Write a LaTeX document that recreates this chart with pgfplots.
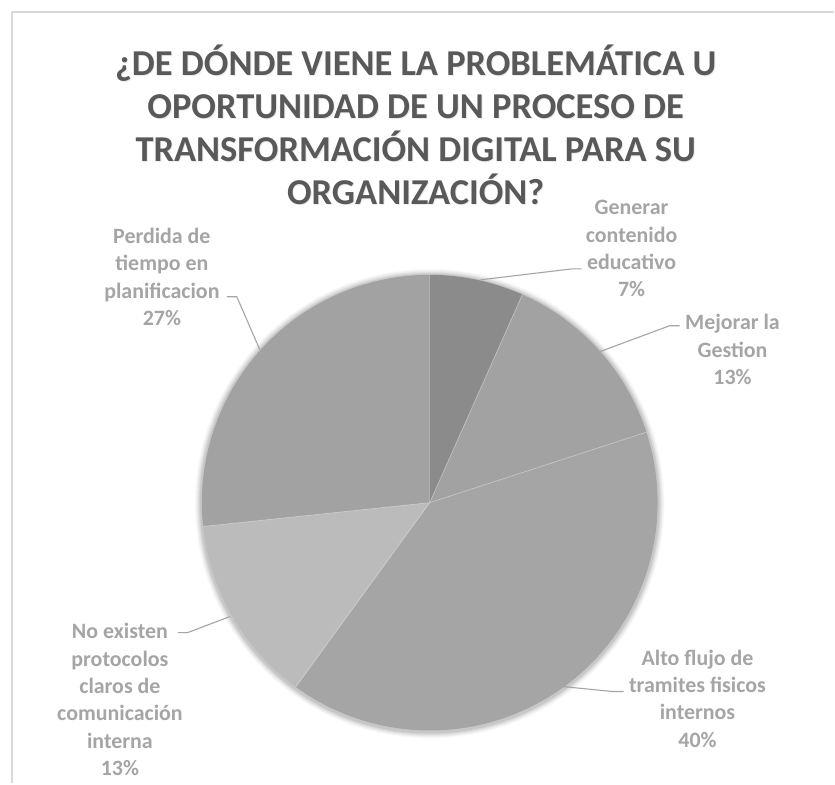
\documentclass[border=0pt]{standalone}
\usepackage{fontspec}
\setmainfont{Carlito}
\usepackage{pgfplots}
\usepackage{pgfplotstable}
\pgfplotsset{compat=1.18}

\definecolor{sliceA}{HTML}{8B8B8B}
\definecolor{sliceB}{HTML}{A2A2A2}
\definecolor{sliceC}{HTML}{A5A5A5}
\definecolor{sliceD}{HTML}{BBBBBB}
\definecolor{sliceE}{HTML}{A2A2A2}
\definecolor{titlegray}{HTML}{595959}
\definecolor{labelgray}{HTML}{A5A5A5}
\definecolor{framegray}{HTML}{D9D9D9}

% share of each slice (percent), clockwise from 12 o'clock
\pgfplotstableread{
value   color
6.6667  sliceA
13.3333 sliceB
40      sliceC
13.3333 sliceD
26.6667 sliceE
}\piedata

\begin{document}
\begin{tikzpicture}
\begin{axis}[
  width=835bp, height=784bp, scale only axis,
  xmin=0, xmax=835, ymin=0, ymax=784, y dir=reverse,
  hide axis, clip=false,
]
% background and frame
\fill[white] (axis cs:0,0) rectangle (axis cs:835,784);
\draw[framegray, line width=1.2bp] (axis cs:12,784) -- (axis cs:12,12) -- (axis cs:835,12);

\pgfplotsextra{
  % soft shadow
  \foreach \k/\o in {7/0.02,6/0.03,5/0.03,4/0.04,3/0.05,2/0.06}{
    \fill[black, opacity=\o] (axis cs:430,504) circle[radius=228bp+\k bp];
  }
  \def\cumangle{90}
  \pgfplotsforeachungrouped \i in {0,1,2,3,4}{%
    \pgfplotstablegetelem{\i}{value}\of\piedata \let\val\pgfplotsretval
    \pgfplotstablegetelem{\i}{color}\of\piedata \let\col\pgfplotsretval
    \pgfmathsetmacro\endangle{\cumangle-3.6*\val}%
    \fill[fill=\col]
      (axis cs:430,503) -- ++(\cumangle:228bp)
      arc[start angle=\cumangle, end angle=\endangle, radius=228bp] -- cycle;
    \draw[white, opacity=0.3, line width=0.8bp] (axis cs:430,503) -- ++(\cumangle:228bp);
    \global\let\cumangle\endangle
  }
}

% leader lines
\draw[labelgray, line width=1.1bp] (axis cs:481,280) -- (axis cs:573,269) -- (axis cs:582,269);
\draw[labelgray, line width=1.1bp] (axis cs:600,352) -- (axis cs:670,326) -- (axis cs:680,326);
\draw[labelgray, line width=1.1bp] (axis cs:563,687) -- (axis cs:613,692) -- (axis cs:624,692);
\draw[labelgray, line width=1.1bp] (axis cs:230,617) -- (axis cs:188,633) -- (axis cs:178,633);
\draw[labelgray, line width=1.1bp] (axis cs:260,350) -- (axis cs:237,297) -- (axis cs:227,297);

% data labels
\tikzset{lbl/.style={align=center, text=labelgray, font=\fontsize{22}{27.5}\selectfont\bfseries, inner sep=0pt}}
\node[lbl] at (axis cs:632,249) {Generar\\contenido\\educativo\\7\%};
\node[lbl] at (axis cs:733,350) {Mejorar la\\Gestion\\13\%};
\node[lbl] at (axis cs:698,699) {Alto flujo de\\tramites fisicos\\internos\\40\%};
\node[lbl] at (axis cs:120,700) {No existen\\protocolos\\claros de\\comunicación\\interna\\13\%};
\node[lbl] at (axis cs:162,277) {Perdida de\\tiempo en\\planificacion\\27\%};

% title
\tikzset{ttl/.style={align=center, font=\fontsize{36.6}{43}\selectfont\bfseries, inner sep=0pt}}
\node[ttl, text=black, opacity=0.08] at (axis cs:417,126) {¿DE DÓNDE VIENE LA PROBLEMÁTICA U\\OPORTUNIDAD DE UN PROCESO DE\\TRANSFORMACIÓN DIGITAL PARA SU\\ORGANIZACIÓN?};
\node[ttl, text=titlegray] at (axis cs:416,125) {¿DE DÓNDE VIENE LA PROBLEMÁTICA U\\OPORTUNIDAD DE UN PROCESO DE\\TRANSFORMACIÓN DIGITAL PARA SU\\ORGANIZACIÓN?};
\end{axis}
\end{tikzpicture}
\end{document}
